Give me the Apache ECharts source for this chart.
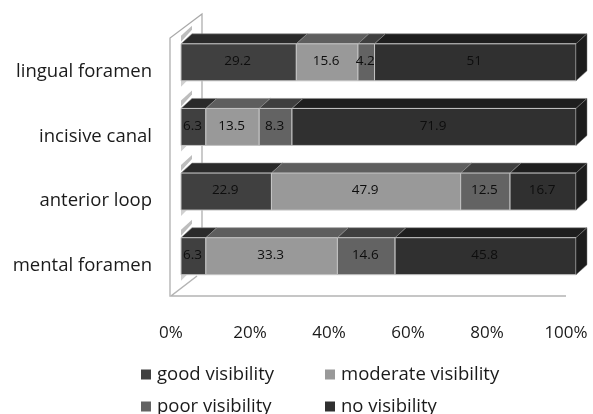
<!DOCTYPE html>
<html><head><meta charset="utf-8">
<style>html,body{margin:0;padding:0;background:#fff}#c{width:593px;height:414px;filter:blur(0.6px)}</style>
<script src="https://cdn.jsdelivr.net/npm/echarts@6/dist/echarts.min.js"></script>
</head><body><div id="c"></div>
<script>
const categories = ['mental foramen','anterior loop','incisive canal','lingual foramen'];
const good = [6.3,22.9,6.3,29.2];
const moderate = [33.3,47.9,13.5,15.6];
const poor = [14.6,12.5,8.3,4.2];
const none = [45.8,16.7,71.9,51];
const names = ['good visibility','moderate visibility','poor visibility','no visibility'];
const font = '"Open Sans", sans-serif';
const DX = 11, DY = 10, BAR = 37;
const styles = [
  {front:'#404040',top:'#2a2a2a',swatch:'#404040'},
  {front:'#999999',top:'#5e5e5e',swatch:'#999999'},
  {front:'#636363',top:'#3f3f3f',swatch:'#636363'},
  {front:'#303030',top:'#1e1e1e',swatch:'#303030'}
];
const all = [good,moderate,poor,none];
function makeSeries(si){
  const data = categories.map((c,ci)=>{
    let s=0; for(let k=0;k<si;k++) s+=all[k][ci];
    return [s, s+all[si][ci], ci, all[si][ci]];
  });
  const st = styles[si], last = si===all.length-1;
  return {
    name:names[si], type:'custom', coordinateSystem:'cartesian2d',
    itemStyle:{color:st.swatch},
    encode:{x:[0,1],y:2},
    data,
    z:3+si,
    renderItem(params,api){
      const a=api.coord([api.value(0),api.value(2)]), b=api.coord([api.value(1),api.value(2)]);
      const y0=a[1]-BAR/2, y1=a[1]+BAR/2, x0=a[0], x1=b[0];
      const kids=[
        {type:'polygon',shape:{points:[[x0,y0],[x1,y0],[x1+DX,y0-DY],[x0+DX,y0-DY]]},style:{fill:st.top,stroke:'#8d8d8d',lineWidth:0.6}},
        {type:'rect',shape:{x:x0,y:y0,width:x1-x0,height:BAR},style:{fill:st.front,stroke:'#c4c4c4',lineWidth:1}}
      ];
      if(last) kids.push({type:'polygon',shape:{points:[[x1,y0],[x1+DX,y0-DY],[x1+DX,y1-DY],[x1,y1]]},style:{fill:'#1c1c1c',stroke:'#777',lineWidth:0.5}});
      kids.push({type:'text',style:{text:String(api.value(3)),x:(x0+x1)/2-1,y:a[1]-1,align:'center',verticalAlign:'middle',fill:'#0d0d0d',font:'13.5px '+font}});
      return {type:'group',children:kids};
    }
  };
}
const stubs = {
  type:'custom', coordinateSystem:'cartesian2d', silent:true, z:1,
  data:categories.map((c,i)=>[0,i]), encode:{x:0,y:1},
  renderItem(params,api){
    const p=api.coord([0,api.value(1)]), x=p[0], t=p[1]-BAR/2, b=p[1]+BAR/2;
    return {type:'group',children:[
      {type:'polygon',shape:{points:[[x,t-DY+2],[x+DX,t-DY-8],[x+DX,t-DY-4],[x,t-DY+8]]},style:{fill:'#bdbdbd'}},
      {type:'polygon',shape:{points:[[x,b],[x+6,b],[x,b+6]]},style:{fill:'#d0d0d0'}}
    ]};
  }
};
const legendAt = (i,left,top)=>({left,top,itemGap:0,itemWidth:10,itemHeight:10,icon:'rect',data:[names[i]],
  textStyle:{fontFamily:font,fontSize:18.5,color:'#1a1a1a',padding:[0,0,0,1]}});
const chart = echarts.init(document.getElementById('c'),null,{renderer:'canvas'});
chart.setOption({
  animation:false,
  backgroundColor:'#fff',
  grid:{left:181,top:30,width:395,height:258.5},
  xAxis:{type:'value',min:0,max:100,interval:20,
    axisLine:{show:false},axisTick:{show:false},splitLine:{show:false},
    axisLabel:{formatter:'{value}%',margin:36,color:'#1a1a1a',fontSize:17,fontFamily:font,padding:[0,20,0,0],hideOverlap:false}},
  yAxis:{type:'category',data:categories,
    axisLine:{show:false},axisTick:{show:false},splitLine:{show:false},
    axisLabel:{margin:29,color:'#1a1a1a',fontSize:18.5,fontFamily:font,verticalAlign:'top'}},
  legend:[legendAt(0,136,360),legendAt(1,320,360),legendAt(2,136,392),legendAt(3,320,392)],
  graphic:[
    {type:'polyline',z:0,shape:{points:[[170,296],[170,38],[202,14],[202,272]]},style:{fill:'none',stroke:'#a8a8a8',lineWidth:1.2}},
    {type:'polyline',z:0,shape:{points:[[197,276],[171,296],[566,296]]},style:{fill:'none',stroke:'#b4b4b4',lineWidth:1.5}}
  ],
  series:[stubs,...all.map((_,i)=>makeSeries(i))]
});
</script></body></html>
